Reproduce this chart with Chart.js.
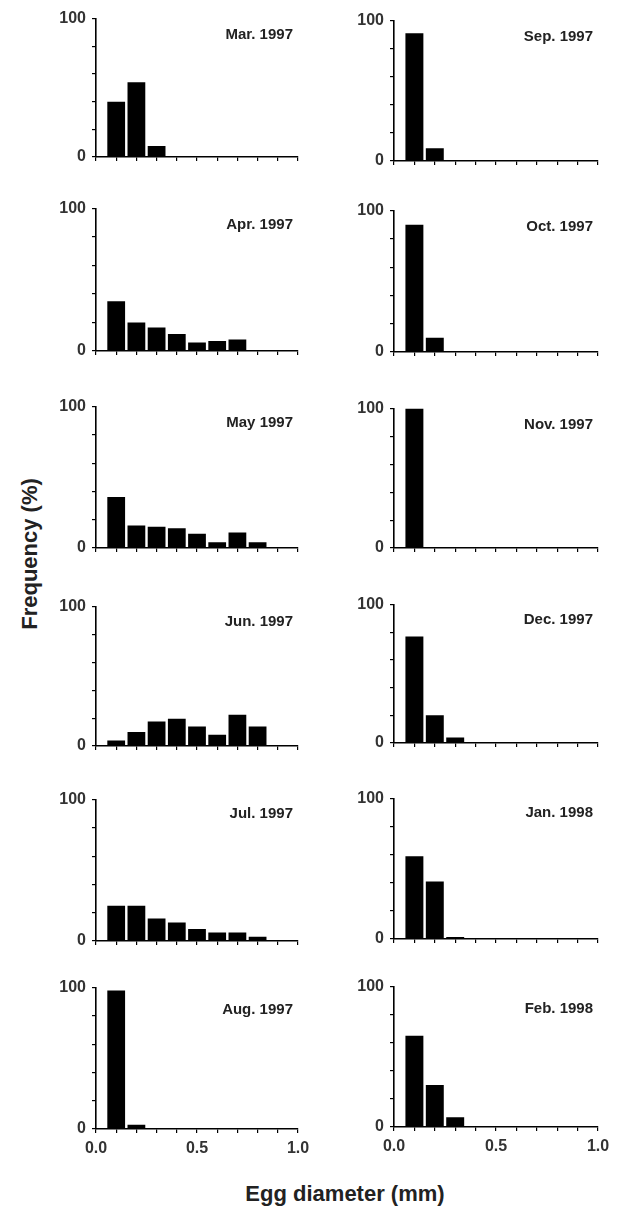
<!DOCTYPE html>
<html lang="en">

<head>
    <meta charset="UTF-8">
    <title>Egg diameter frequency, Mar. 1997 - Feb. 1998</title>
    <script src="https://cdn.jsdelivr.net/npm/chart.js"></script>
    <style>
        body { margin: 0; background: #fff; font-family: "Liberation Sans", Arial, sans-serif; }
        #figure { position: relative; width: 623px; height: 1209px; overflow: hidden; }
        canvas { position: absolute; }
        .panel-title { position: absolute; font-weight: bold; font-size: 15px; color: #222; transform: translateY(-50%); white-space: nowrap; }
        .axis-title { position: absolute; font-weight: bold; font-size: 22px; color: #222; white-space: nowrap; }
    </style>
</head>

<body>
    <div id="figure">
        <div class="axis-title" style="left:30px; top:554px; transform: translate(-50%, -50%) rotate(-90deg);">Frequency (%)</div>
        <div class="axis-title" style="left:345px; top:1194px; transform: translate(-50%, -50%);">Egg diameter (mm)</div>
    </div>

    <script>
        // bin centres of egg diameter (mm)
        const binCentres = [0.1, 0.2, 0.3, 0.4, 0.5, 0.6, 0.7, 0.8, 0.9];

        // frequency (%) per bin
        const mar97 = [40, 54, 8];
        const apr97 = [35, 20, 16.5, 12, 6, 7, 8];
        const may97 = [36, 16, 15, 14, 10, 4, 11, 4];
        const jun97 = [4, 10, 17.5, 19.5, 14, 8, 22.5, 14];
        const jul97 = [25, 25, 16, 13, 8.5, 6, 6, 3];
        const aug97 = [98, 3];
        const sep97 = [91, 9];
        const oct97 = [90, 10];
        const nov97 = [100];
        const dec97 = [77, 20, 4];
        const jan98 = [59, 41, 1.5];
        const feb98 = [65, 30, 7];

        const leftTitles = ['Mar. 1997', 'Apr. 1997', 'May 1997', 'Jun. 1997', 'Jul. 1997', 'Aug. 1997'];
        const rightTitles = ['Sep. 1997', 'Oct. 1997', 'Nov. 1997', 'Dec. 1997', 'Jan. 1998', 'Feb. 1998'];
        const leftData = [mar97, apr97, may97, jun97, jul97, aug97];
        const rightData = [sep97, oct97, nov97, dec97, jan98, feb98];

        const yTickLabels = [0, 100];
        const xTickLabels = ['0.0', '0.5', '1.0'];

        // panel plot areas in page pixels
        const columns = [
            { left: 96, right: 298, tops: [15, 205, 403, 603, 796, 984], bottoms: [157, 351, 548, 746, 941, 1129] },
            { left: 394, right: 598, tops: [17, 207, 405, 601, 795, 983], bottoms: [161, 352, 548, 743, 939, 1127] }
        ];
        const titleOffsets = [18, 18, 18, 17, 16, 24];

        const Y_AXIS_W = 60, X_AXIS_H = 40, PAD_TOP = 12, PAD_RIGHT = 20;
        const fig = document.getElementById('figure');
        const tickFont = { family: '"Liberation Sans", Arial, sans-serif', size: 16, weight: 'bold' };

        function makePanel(col, row, title, values) {
            const c = columns[col];
            const top = c.tops[row], bottom = c.bottoms[row];
            const canvas = document.createElement('canvas');
            canvas.width = Y_AXIS_W + (c.right - c.left) + PAD_RIGHT;
            canvas.height = PAD_TOP + (bottom - top) + X_AXIS_H;
            canvas.style.left = (c.left - Y_AXIS_W) + 'px';
            canvas.style.top = (top - PAD_TOP) + 'px';
            fig.appendChild(canvas);

            const label = document.createElement('div');
            label.className = 'panel-title';
            label.textContent = title;
            label.style.right = (623 - c.right + 5) + 'px';
            label.style.top = (top + titleOffsets[row]) + 'px';
            fig.appendChild(label);

            const isBottom = row === 5;

            new Chart(canvas, {
                type: 'bar',
                data: {
                    datasets: [{
                        data: values.map((v, i) => ({ x: binCentres[i], y: v })),
                        backgroundColor: '#000',
                        borderWidth: 0,
                        barPercentage: 0.88,
                        categoryPercentage: 1.0
                    }]
                },
                options: {
                    responsive: false,
                    animation: false,
                    layout: { padding: { top: PAD_TOP, right: PAD_RIGHT, left: 0, bottom: 0 } },
                    plugins: { legend: { display: false }, tooltip: { enabled: false } },
                    scales: {
                        x: {
                            type: 'linear',
                            min: 0,
                            max: 1,
                            offset: false,
                            grid: { offset: false, drawOnChartArea: false, drawTicks: true, tickLength: 4, color: '#000', lineWidth: 1.2 },
                            border: { display: true, color: '#000', width: 1.6 },
                            ticks: {
                                stepSize: 0.1,
                                autoSkip: false,
                                maxRotation: 0,
                                padding: 6,
                                color: '#333',
                                font: tickFont,
                                callback: v => {
                                    if (!isBottom) return '';
                                    const k = Math.round(v * 10);
                                    return k % 5 === 0 ? xTickLabels[k / 5] : '';
                                }
                            },
                            afterFit: s => { s.height = X_AXIS_H; }
                        },
                        y: {
                            min: 0,
                            max: 100,
                            grid: { drawOnChartArea: false, drawTicks: true, tickLength: 4, color: '#000', lineWidth: 1.2 },
                            border: { display: true, color: '#000', width: 1.6 },
                            ticks: {
                                stepSize: 20,
                                padding: 6,
                                color: '#333',
                                font: tickFont,
                                callback: v => yTickLabels.includes(v) ? v : ''
                            },
                            afterFit: s => { s.width = Y_AXIS_W; }
                        }
                    }
                }
            });
        }

        leftData.forEach((d, i) => makePanel(0, i, leftTitles[i], d));
        rightData.forEach((d, i) => makePanel(1, i, rightTitles[i], d));
    </script>
</body>

</html>
